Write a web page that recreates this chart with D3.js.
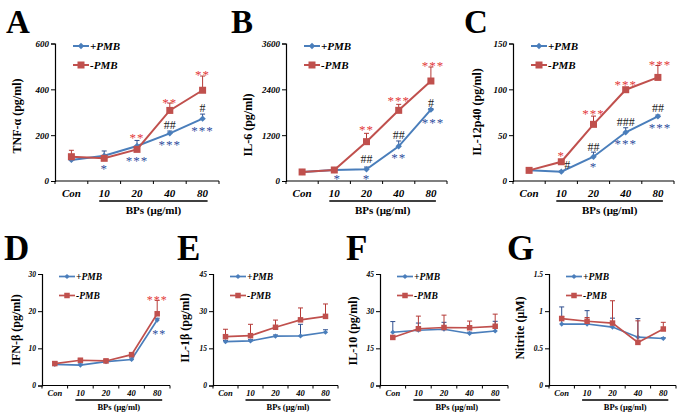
<!DOCTYPE html>
<html lang="en">
<head>
<meta charset="UTF-8">
<title>Cytokine panels A-G</title>
<style>
  body { margin: 0; background: #fff; }
  text { font-family: "Liberation Serif", "Times New Roman", serif; }
</style>
<script src="https://d3js.org/d3.v7.min.js"></script>
</head>
<body>
<script>
// categories shared by every panel
const cats = ["Con", "10", "20", "40", "80"];

// values (+PMB = blue, -PMB = red), one-sided SD
const tnfPlus = [92, 110, 153, 208, 272];
const tnfPlusErr = [6, 21, 24, 10, 20];
const tnfMinus = [106, 99, 138, 308, 396];
const tnfMinusErr = [28, 4, 8, 32, 62];

const il6Plus = [236, 288, 305, 908, 1868];
const il6PlusErr = [20, 20, 60, 140, 30];
const il6Minus = [236, 288, 1030, 1850, 2618];
const il6MinusErr = [20, 20, 218, 157, 367];

const il12Plus = [11.6, 10.2, 26.5, 53.1, 70.5];
const il12PlusErr = [1, 0.5, 5, 5, 1.5];
const il12Minus = [11.6, 21, 61.8, 99.6, 113];
const il12MinusErr = [1.5, 1, 9, 1.5, 13];

const ifnPlus = [5.7, 5.5, 6.4, 7.0, 17.6];
const ifnPlusErr = [0.6, 0.3, 0.5, 0.4, 0.5];
const ifnMinus = [5.9, 6.8, 6.6, 8.3, 19.3];
const ifnMinusErr = [0.5, 0.4, 0.5, 0.4, 3.6];

const il1Plus = [17.7, 18, 19.9, 20, 21.5];
const il1PlusErr = [0.5, 0.5, 0.5, 4.7, 1];
const il1Minus = [19.7, 20.1, 23.5, 26.5, 27.9];
const il1MinusErr = [3, 4.6, 2.9, 4.8, 5];

const il10Plus = [21.5, 22.3, 22.7, 21, 22];
const il10PlusErr = [4.3, 2.9, 2.8, 0.5, 3.9];
const il10Minus = [19.4, 22.9, 23.4, 23.3, 23.9];
const il10MinusErr = [0.5, 5.1, 5, 2.7, 4.9];

const noPlus = [0.827, 0.827, 0.786, 0.65, 0.632];
const noPlusErr = [0.23, 0.18, 0.12, 0.25, 0.01];
const noMinus = [0.9, 0.864, 0.84, 0.58, 0.76];
const noMinusErr = [0.03, 0.05, 0.3, 0.29, 0.09];

// y tick labels
const tnfTicks = [0, 200, 400, 600];
const il6Ticks = [0, 1200, 2400, 3600];
const il12Ticks = [0, 50, 100, 150];
const ifnTicks = [0, 10, 20, 30];
const il1Ticks = [0, 15, 30, 45];
const il10Ticks = [0, 15, 30, 45];
const noTicks = [0, 0.5, 1, 1.5];

// significance marks: [category index, text, r=red star / b=blue star / k=hash, value at label centre]
const tnfMarks = [[2,"**","r",203],[3,"**","r",353],[4,"**","r",476],[1,"*","b",68],[2,"***","b",102],
                  [3,"***","b",170],[4,"***","b",233],[3,"##","k",243],[4,"#","k",320]];
const il6Marks = [[2,"**","r",1414],[3,"***","r",2181],[4,"***","r",3097],[1,"*","b",147],[2,"*","b",147],
                  [2,"##","k",566],[3,"##","k",1194],[3,"**","b",681],[4,"#","k",2050],[4,"***","b",1613]];
const il12Marks = [[1,"*","r",30.9],[1,"#","k",17.5],[2,"***","r",76.4],[2,"##","k",37],[2,"*","b",18.9],
                   [3,"***","r",108.3],[3,"###","k",64.4],[3,"***","b",43.6],[4,"***","r",130],[4,"##","k",80],[4,"***","b",61]];
const ifnMarks = [[4,"***","r",23.6],[4,"**","b",14.6]];

const W = 683, H = 419;
const BLUE = "#4a7ebb", RED = "#c0504d";
const BLUE_ERR = "#2f4f8f", RED_ERR = "#b53a37";
const RED_TXT = "#e3393a", BLUE_TXT = "#2d4c9c";

const svg = d3.select("body").append("svg").attr("width", W).attr("height", H);

const rows = [
  { y0: 181, y1: 43.5, tick: 9, cat: 11, leg: 11, bps: 11, title: 12, star: 13, hash: 12,
    sq: 7, dia: 3.2, lw: 2, letter: 33, letterY: 33, catY: 197, lineY: 201, bpsY: 214 },
  { y0: 385.5, y1: 274, tick: 7.5, cat: 8.5, leg: 9.5, bps: 8.5, title: 12, star: 12, hash: 10,
    sq: 5.5, dia: 2.6, lw: 1.7, letter: 35, letterY: 260, catY: 396, lineY: 400, bpsY: 410 }
];

const panels = [
  { id: "A", row: 0, x0: 55, x1: 219, letterX: 6, titleX: 17, titleY: 116, label: "TNF-α (pg/ml)",
    ticks: tnfTicks, plus: tnfPlus, plusErr: tnfPlusErr, minus: tnfMinus, minusErr: tnfMinusErr, marks: tnfMarks },
  { id: "B", row: 0, x0: 286, x1: 447, letterX: 231, titleX: 248, titleY: 125, label: "IL-6 (pg/ml)",
    ticks: il6Ticks, plus: il6Plus, plusErr: il6PlusErr, minus: il6Minus, minusErr: il6MinusErr, marks: il6Marks },
  { id: "C", row: 0, x0: 513, x1: 674, letterX: 464, titleX: 477, titleY: 112, label: "IL-12p40 (pg/ml)",
    ticks: il12Ticks, plus: il12Plus, plusErr: il12PlusErr, minus: il12Minus, minusErr: il12MinusErr, marks: il12Marks },
  { id: "D", row: 1, x0: 42, x1: 170, letterX: 4, titleX: 16, titleY: 330, label: "IFN-β (pg/ml)",
    ticks: ifnTicks, plus: ifnPlus, plusErr: ifnPlusErr, minus: ifnMinus, minusErr: ifnMinusErr, marks: ifnMarks },
  { id: "E", row: 1, x0: 213, x1: 338, letterX: 177, titleX: 185, titleY: 328, label: "IL-1β (pg/ml)",
    ticks: il1Ticks, plus: il1Plus, plusErr: il1PlusErr, minus: il1Minus, minusErr: il1MinusErr, marks: [] },
  { id: "F", row: 1, x0: 380, x1: 508, letterX: 346, titleX: 353, titleY: 331, label: "IL-10 (pg/ml)",
    ticks: il10Ticks, plus: il10Plus, plusErr: il10PlusErr, minus: il10Minus, minusErr: il10MinusErr, marks: [] },
  { id: "G", row: 1, x0: 549, x1: 676, letterX: 507, titleX: 520, titleY: 328, label: "Nitrite (μM)",
    ticks: noTicks, plus: noPlus, plusErr: noPlusErr, minus: noMinus, minusErr: noMinusErr, marks: [] }
];

// small sideways nudges for marks that sit beside the point
const nudge = { "B-1-*": 3, "C-1-#": 6, "B-4-***": 2, "C-4-***": 2, "D-4-**": 2 };

panels.forEach(p => {
  const r = rows[p.row];
  const g = svg.append("g");
  const x = d3.scaleBand().domain(cats).range([p.x0, p.x1]);
  const cx = c => x(c) + x.bandwidth() / 2;
  const y = d3.scaleLinear().domain([0, d3.max(p.ticks)]).range([r.y0, r.y1]);

  // panel letter
  g.append("text").attr("x", p.letterX).attr("y", r.letterY)
    .attr("font-size", r.letter).attr("font-weight", "bold").text(p.id);

  // y axis
  const yAxis = d3.axisLeft(y).tickValues(p.ticks).tickSize(4).tickFormat(d3.format("~g"));
  const ya = g.append("g").attr("transform", `translate(${p.x0},0)`).call(yAxis);
  ya.select(".domain").attr("stroke", "#000").attr("stroke-width", 1.2);
  ya.selectAll(".tick line").attr("stroke", "#000");
  ya.selectAll(".tick text").attr("font-size", r.tick).attr("font-style", "italic")
    .attr("font-weight", "bold").attr("font-family", '"Liberation Serif", serif').attr("x", -6);

  // x axis with ticks on category boundaries
  g.append("line").attr("x1", p.x0).attr("x2", p.x1).attr("y1", r.y0).attr("y2", r.y0)
    .attr("stroke", "#000").attr("stroke-width", 1.2);
  d3.range(cats.length + 1).forEach(k => {
    const tx = p.x0 + k * x.step();
    g.append("line").attr("x1", tx).attr("x2", tx).attr("y1", r.y0).attr("y2", r.y0 + 3)
      .attr("stroke", "#000");
  });
  g.selectAll(".cat").data(cats).enter().append("text")
    .attr("x", d => cx(d)).attr("y", r.catY).attr("text-anchor", "middle")
    .attr("font-size", r.cat).attr("font-style", "italic").attr("font-weight", "bold").text(d => d);

  // BPs underline + label
  const ux0 = cx(cats[1]) - 5, ux1 = cx(cats[4]) + 5;
  g.append("line").attr("x1", ux0).attr("x2", ux1).attr("y1", r.lineY).attr("y2", r.lineY)
    .attr("stroke", "#000").attr("stroke-width", 1.5);
  g.append("text").attr("x", (ux0 + ux1) / 2).attr("y", r.bpsY).attr("text-anchor", "middle")
    .attr("font-size", r.bps).attr("font-weight", "bold").text("BPs (μg/ml)");

  // y title
  g.append("text").attr("transform", `translate(${p.titleX + r.title * 0.35},${p.titleY}) rotate(-90)`)
    .attr("text-anchor", "middle").attr("font-size", r.title).attr("font-weight", "bold").text(p.label);

  // series
  const series = [
    { vals: p.plus, err: p.plusErr, color: BLUE, ecolor: BLUE_ERR, shape: "diamond" },
    { vals: p.minus, err: p.minusErr, color: RED, ecolor: RED_ERR, shape: "square" }
  ];
  const line = d3.line().x((d, i) => cx(cats[i])).y(d => y(d));
  series.forEach(s => {
    // error bars (upward only)
    s.vals.forEach((v, i) => {
      const ex = cx(cats[i]), top = y(v + s.err[i]);
      g.append("line").attr("x1", ex).attr("x2", ex).attr("y1", y(v)).attr("y2", top)
        .attr("stroke", s.ecolor).attr("stroke-width", 1);
      g.append("line").attr("x1", ex - 2.5).attr("x2", ex + 2.5).attr("y1", top).attr("y2", top)
        .attr("stroke", s.ecolor).attr("stroke-width", 1);
    });
    g.append("path").datum(s.vals).attr("d", line).attr("fill", "none")
      .attr("stroke", s.color).attr("stroke-width", r.lw);
    s.vals.forEach((v, i) => drawMarker(g, s.shape, cx(cats[i]), y(v), s.color, r));
  });

  // legend
  const lx = p.x0 + (p.row === 0 ? 18 : 17);
  const ly = [r.y1 + 2.5, r.y1 + 21.5];
  ["+PMB", "-PMB"].forEach((name, k) => {
    const s = series[k];
    g.append("line").attr("x1", lx).attr("x2", lx + 16).attr("y1", ly[k]).attr("y2", ly[k])
      .attr("stroke", s.color).attr("stroke-width", r.lw);
    drawMarker(g, s.shape, lx + 8, ly[k], s.color, r);
    g.append("text").attr("x", lx + 17).attr("y", ly[k] + r.leg * 0.33)
      .attr("font-size", r.leg).attr("font-style", "italic").attr("font-weight", "bold").text(name);
  });

  // significance marks
  p.marks.forEach(([i, t, kind, at]) => {
    const dx = nudge[`${p.id}-${i}-${t}`] || 0;
    const isStar = kind !== "k";
    const fs = isStar ? r.star : r.hash;
    g.append("text")
      .attr("x", cx(cats[i]) + dx)
      .attr("y", y(at) + (isStar ? fs * 0.55 : fs * 0.34))
      .attr("text-anchor", "middle")
      .attr("font-size", fs)
      .attr("letter-spacing", isStar ? 1 : 0)
      .attr("fill", kind === "r" ? RED_TXT : kind === "b" ? BLUE_TXT : "#222")
      .text(t);
  });
});

function drawMarker(g, shape, mx, my, color, r) {
  if (shape === "square") {
    g.append("rect").attr("x", mx - r.sq / 2).attr("y", my - r.sq / 2)
      .attr("width", r.sq).attr("height", r.sq).attr("fill", color);
  } else {
    const d = r.dia;
    g.append("path").attr("d", `M${mx},${my - d}L${mx + d},${my}L${mx},${my + d}L${mx - d},${my}Z`)
      .attr("fill", color);
  }
}
</script>
</body>
</html>
